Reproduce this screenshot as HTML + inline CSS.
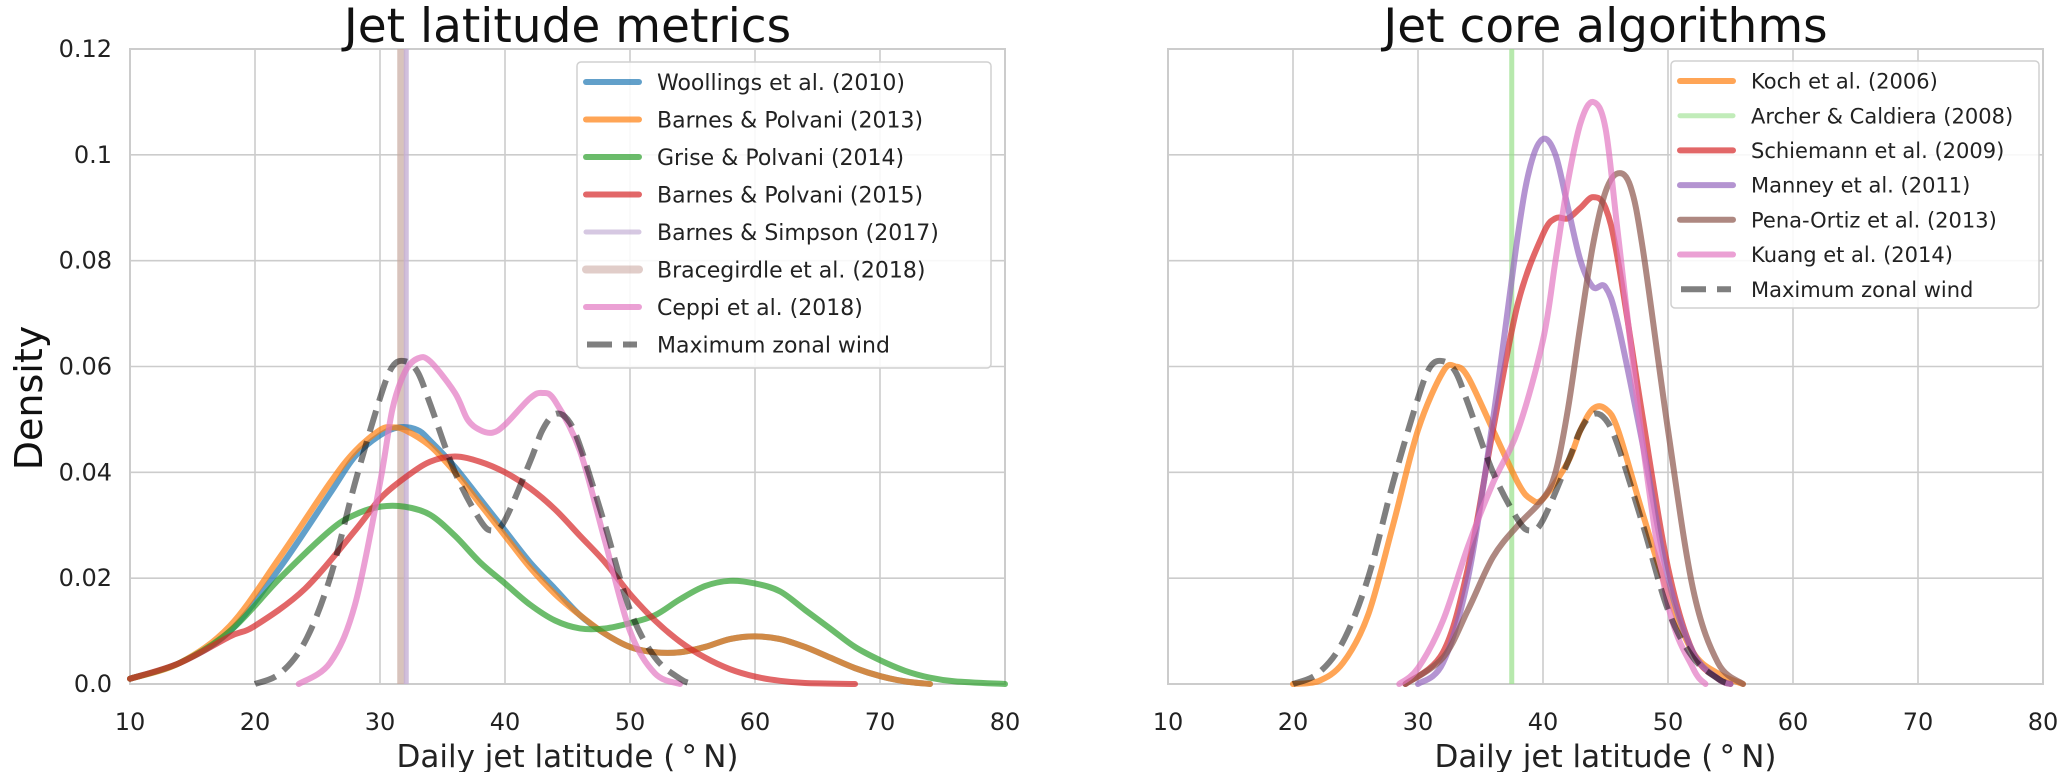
<!DOCTYPE html>
<html><head><meta charset="utf-8"><style>
html,body{margin:0;padding:0;background:#fff;}
svg{display:block;font-family:"DejaVu Sans","Liberation Sans",sans-serif;}
</style></head><body>
<svg id="chart" width="2067" height="772" viewBox="0 0 2067 772" xmlns="http://www.w3.org/2000/svg"></svg>
<script>
const xTicks=[10,20,30,40,50,60,70,80];
const yTicks=[0,0.02,0.04,0.06,0.08,0.1,0.12];
const yTickLabels=["0.0","0.02","0.04","0.06","0.08","0.1","0.12"];
// left panel series [lat, density]
const woollingsLat=[10,14,18,22,26,28,30,31.5,33,34,36,38,40,42,44,46,48,50,52,54,56,58,60,62,64,66,68,70,72,74];
const woollingsVal=[0.001,0.004,0.010,0.022,0.036,0.043,0.047,0.0485,0.048,0.046,0.041,0.035,0.029,0.023,0.018,0.013,0.0095,0.007,0.006,0.006,0.007,0.0085,0.009,0.0085,0.007,0.005,0.003,0.0015,0.0005,0];
const bp13Lat=[10,14,18,22,26,28,30,31,32,34,36,38,40,42,44,46,48,50,52,54,56,58,60,62,64,66,68,70,72,74];
const bp13Val=[0.001,0.004,0.011,0.024,0.038,0.044,0.048,0.0485,0.048,0.045,0.040,0.034,0.028,0.022,0.017,0.013,0.0095,0.007,0.006,0.006,0.007,0.0085,0.009,0.0085,0.007,0.005,0.003,0.0015,0.0005,0];
const griseLat=[10,14,18,22,26,28,30,32,34,36,38,40,42,44,46,48,50,52,54,56,58,60,62,64,66,68,70,72,74,76,80];
const griseVal=[0.001,0.004,0.010,0.020,0.029,0.032,0.0335,0.0335,0.032,0.028,0.023,0.019,0.015,0.012,0.0105,0.0105,0.0115,0.013,0.016,0.0185,0.0195,0.019,0.0175,0.014,0.0105,0.007,0.0045,0.0025,0.0012,0.0005,0];
const bp15Lat=[10,14,18,20,24,28,30,32,34,36,38,40,42,44,46,48,50,52,54,56,58,60,62,64,68];
const bp15Val=[0.001,0.004,0.009,0.011,0.018,0.029,0.035,0.039,0.042,0.043,0.042,0.040,0.037,0.033,0.028,0.023,0.017,0.012,0.008,0.005,0.0028,0.0014,0.0006,0.0002,0];
const ceppiLat=[23.5,26,28,30,31,32,33,34,36,37,38,39,40,42,43,44,46,48,50,52,54];
const ceppiVal=[0,0.004,0.015,0.038,0.052,0.059,0.0615,0.061,0.055,0.050,0.048,0.0475,0.049,0.054,0.055,0.0535,0.044,0.027,0.010,0.002,0];
const maxwindLat=[20,22,24,26,28,30,31,32,33,34,36,38,39,40,42,43,44,45,46,48,50,52,54,55];
const maxwindVal=[0,0.002,0.008,0.020,0.038,0.054,0.060,0.061,0.059,0.053,0.040,0.031,0.029,0.031,0.042,0.048,0.051,0.050,0.045,0.030,0.014,0.005,0.001,0];
const simpsonLat=32.1, bracegirdleLat=31.7;
// right panel
const kochLat=[20,22,24,26,28,30,32,33,34,36,38,39,40,42,43,44,45,46,48,50,52,54,56];
const kochVal=[0,0.0005,0.004,0.013,0.030,0.048,0.059,0.060,0.058,0.048,0.038,0.035,0.035,0.042,0.048,0.052,0.052,0.048,0.032,0.017,0.006,0.002,0];
const archerLat=37.5;
const schiemannLat=[29,32,34,36,38,40,41,42,43,44,45,46,48,50,52,54,55];
const schiemannVal=[0,0.006,0.022,0.048,0.072,0.085,0.088,0.088,0.090,0.092,0.090,0.080,0.050,0.022,0.006,0.001,0];
const manneyLat=[30,32,34,36,38,39,40,41,42,43,44,45,46,48,50,52,54,55];
const manneyVal=[0,0.004,0.020,0.050,0.085,0.098,0.103,0.100,0.090,0.080,0.075,0.075,0.068,0.045,0.020,0.006,0.001,0];
const penaLat=[29,32,34,36,38,40,41,42,43,44,45,46,47,48,50,52,54,56];
const penaVal=[0,0.005,0.014,0.024,0.030,0.035,0.040,0.052,0.068,0.083,0.093,0.0965,0.094,0.082,0.048,0.018,0.004,0];
const kuangLat=[28.5,30,32,34,36,38,40,41,42,43,44,45,46,48,50,52,53];
const kuangVal=[0,0.003,0.012,0.026,0.038,0.048,0.065,0.080,0.095,0.106,0.110,0.105,0.085,0.045,0.015,0.003,0];

const svg=document.getElementById('chart');
const NS='http://www.w3.org/2000/svg';
const T=0.12, Y0=684, YH=635;
function mk(tag,attrs,parent){const e=document.createElementNS(NS,tag);for(const k in attrs)e.setAttribute(k,attrs[k]);(parent||svg).appendChild(e);return e;}
function yS(v){return Y0-v/T*YH;}
function makeX(left){return lat=>left+(lat-10)*12.5;}
function pathD(lats,vals,xS){
  const p=lats.map((l,i)=>[xS(l),yS(vals[i])]);
  let d='M'+p[0][0]+','+p[0][1];
  for(let i=0;i<p.length-1;i++){
    const p0=p[i-1]||p[i],p1=p[i],p2=p[i+1],p3=p[i+2]||p2;
    const c1x=p1[0]+(p2[0]-p0[0])/6,c1y=p1[1]+(p2[1]-p0[1])/6;
    const c2x=p2[0]-(p3[0]-p1[0])/6,c2y=p2[1]-(p3[1]-p1[1])/6;
    d+=` C${c1x},${Math.min(Y0,c1y)} ${c2x},${Math.min(Y0,c2y)} ${p2[0]},${p2[1]}`;
  }
  return d;
}
function panel(left,name,title,showY){
  const xS=makeX(left);
  const g=mk('g',{});
  
  
  xTicks.forEach(t=>{
    const l=mk('line',{x1:xS(t),x2:xS(t),y1:yS(0.12),y2:Y0,stroke:'#cccccc','stroke-width':1.6},g);
    
    
    const tx=mk('text',{x:xS(t),y:730,'font-size':24,'text-anchor':'middle',fill:'#222'},g);
    tx.textContent=t;
    
    
  });
  yTicks.forEach((t,i)=>{
    const l=mk('line',{x1:xS(10),x2:xS(80),y1:yS(t),y2:yS(t),stroke:'#cccccc','stroke-width':1.6},g);
    
    
    if(showY){
      const tx=mk('text',{x:112,y:yS(t)+8,'font-size':24,'text-anchor':'end',fill:'#222'},g);
      tx.textContent=yTickLabels[i];
      
      
    }
  });
  const fr=mk('rect',{x:xS(10),y:yS(0.12),width:875,height:YH,fill:'none',stroke:'#cccccc','stroke-width':2},g);
  
  
  const ti=mk('text',{x:xS(45),y:42,'font-size':47,'text-anchor':'middle',fill:'#111'},g);
  ti.textContent=title;
  
  
  const xl=mk('text',{x:xS(45),y:767,'font-size':31,'text-anchor':'middle',fill:'#222'},g);
  xl.textContent='Daily jet latitude (\u2009\u00b0\u2009N)';
  
  
  return {g,xS};
}
function curve(P,lats,vals,color,nm,dash){
  const a={d:pathD(lats,vals,P.xS),fill:'none',stroke:color,'stroke-width':6,'stroke-opacity':dash?0.5:0.7,'stroke-linejoin':'round','stroke-linecap':dash?'butt':'round'};
  if(dash)a['stroke-dasharray']='22 10';
  const e=mk('path',a,P.g);
  
  
}
function vline(P,lat,color,w,op,nm){
  const e=mk('line',{x1:P.xS(lat),x2:P.xS(lat),y1:yS(0.12),y2:Y0,stroke:color,'stroke-width':w,'stroke-opacity':op},P.g);
  
  
}
function legend(P,x,y,w,h,rowH,fs,items){
  const lg=mk('g',{},P.g);
  
  
  mk('rect',{x,y,width:w,height:h,rx:4,fill:'#fff','fill-opacity':0.85,stroke:'#d0d0d0','stroke-width':1.5},lg);
  items.forEach((it,i)=>{
    const cy=y+20+rowH*i;
    const a={x1:x+9,x2:x+62,y1:cy,y2:cy,stroke:it[1],'stroke-width':it[3]||6,'stroke-opacity':it[4]||0.7,'stroke-linecap':it[2]?'butt':'round'};
    if(it[2]){a['stroke-dasharray']='25 11';a.x1=x+10;a.x2=x+60;a['stroke-opacity']=0.5;}
    const ln=mk('line',a,lg);
    
    
    const t=mk('text',{x:x+80,y:cy+fs*0.36,'font-size':fs,fill:'#222'},lg);
    t.textContent=it[0];
    
    
  });
}
const L=panel(130,'left-panel','Jet latitude metrics',true);
vline(L,bracegirdleLat,'#c7a9a0',8,0.7,'bracegirdle-line');
vline(L,simpsonLat,'#c5b0d5',5,0.8,'barnes-simpson-line');
curve(L,woollingsLat,woollingsVal,'#1f77b4','woollings-curve');
curve(L,bp13Lat,bp13Val,'#ff7f0e','barnes-polvani-2013-curve');
curve(L,griseLat,griseVal,'#2ca02c','grise-polvani-curve');
curve(L,bp15Lat,bp15Val,'#d62728','barnes-polvani-2015-curve');
curve(L,ceppiLat,ceppiVal,'#e377c2','ceppi-curve');
curve(L,maxwindLat,maxwindVal,'#000','max-zonal-wind-curve',true);
legend(L,577,62,414,306,37.5,22,[
 ['Woollings et al. (2010)','#1f77b4'],['Barnes & Polvani (2013)','#ff7f0e'],['Grise & Polvani (2014)','#2ca02c'],
 ['Barnes & Polvani (2015)','#d62728'],['Barnes & Simpson (2017)','#c5b0d5',false,5,0.7],['Bracegirdle et al. (2018)','#c49c94',false,8,0.5],
 ['Ceppi et al. (2018)','#e377c2'],['Maximum zonal wind','#000',true]]);
const yl=mk('text',{x:0,y:0,'font-size':38,'text-anchor':'middle',fill:'#111',transform:'translate(42,398) rotate(-90)'});
yl.textContent='Density';



const R=panel(1168,'right-panel','Jet core algorithms',false);
vline(R,archerLat,'#98df8a',5,0.7,'archer-caldiera-line');
curve(R,kochLat,kochVal,'#ff7f0e','koch-curve');
curve(R,schiemannLat,schiemannVal,'#d62728','schiemann-curve');
curve(R,manneyLat,manneyVal,'#9467bd','manney-curve');
curve(R,penaLat,penaVal,'#8c564b','pena-ortiz-curve');
curve(R,kuangLat,kuangVal,'#e377c2','kuang-curve');
curve(R,maxwindLat,maxwindVal,'#000','max-zonal-wind-curve-right',true);
legend(R,1671,61,368,247,34.7,21,[
 ['Koch et al. (2006)','#ff7f0e'],['Archer & Caldiera (2008)','#98df8a',false,5,0.6],['Schiemann et al. (2009)','#d62728'],
 ['Manney et al. (2011)','#9467bd'],['Pena-Ortiz et al. (2013)','#8c564b'],['Kuang et al. (2014)','#e377c2'],['Maximum zonal wind','#000',true]]);
</script>
</body></html>
